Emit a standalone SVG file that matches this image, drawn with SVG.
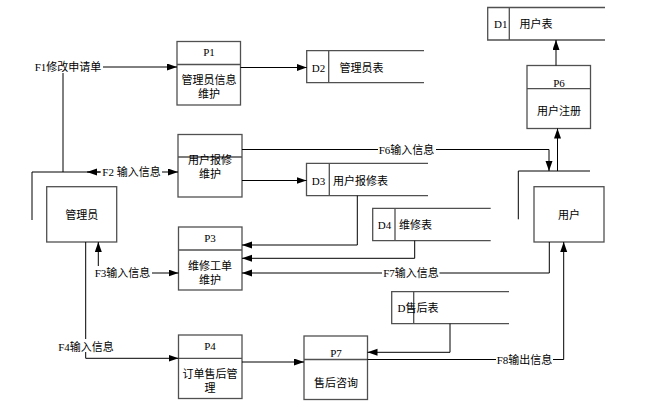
<svg xmlns="http://www.w3.org/2000/svg" width="648" height="412" viewBox="0 0 648 412">
<defs>
<marker id="arr" markerUnits="userSpaceOnUse" markerWidth="11" markerHeight="8" refX="10" refY="3.5" orient="auto">
<path d="M0,0 L10,3.5 L0,7 z" fill="#000"/>
</marker>
<style>
.box{fill:#fff;stroke:#505050;stroke-width:1.3}
.ln{fill:none;stroke:#505050;stroke-width:1.3}
.c{fill:none;stroke:#000;stroke-width:1}
.ca{fill:none;stroke:#000;stroke-width:1;marker-end:url(#arr)}
text{font-family:"Liberation Serif","Noto Sans CJK SC",serif;font-size:11px;fill:#000}
.m{text-anchor:middle}
</style>
</defs>
<rect width="648" height="412" fill="#fff"/>

<g id="P1">
<rect class="box" x="177" y="41.5" width="63.5" height="63.5"/>
<line class="ln" x1="177" y1="64.5" x2="240.5" y2="64.5"/>
<text class="m" x="209" y="56">P1</text>
<text class="m" x="209" y="84">管理员信息</text>
<text class="m" x="209" y="97.5">维护</text>
</g>

<g id="P2">
<rect class="box" x="178" y="134.5" width="64" height="62.5"/>
<line class="ln" x1="178" y1="157" x2="242" y2="157"/>
<text class="m" x="210" y="163.5">用户报修</text>
<text class="m" x="210" y="178">维护</text>
</g>

<g id="P3">
<rect class="box" x="178.5" y="227" width="63.5" height="63"/>
<line class="ln" x1="178.5" y1="250" x2="242" y2="250"/>
<text class="m" x="210" y="241.5">P3</text>
<text class="m" x="210" y="270">维修工单</text>
<text class="m" x="210" y="283.5">维护</text>
</g>

<g id="P4">
<rect class="box" x="178.5" y="335" width="63.5" height="63.5"/>
<line class="ln" x1="178.5" y1="358.3" x2="242" y2="358.3"/>
<text class="m" x="210" y="349.5">P4</text>
<text class="m" x="210" y="378">订单售后管</text>
<text class="m" x="210" y="391.5">理</text>
</g>

<g id="P7">
<rect class="box" x="304" y="336" width="63.5" height="63.5"/>
<line class="ln" x1="304" y1="359.5" x2="367.5" y2="359.5"/>
<text class="m" x="336" y="357">P7</text>
<text class="m" x="336" y="386.5">售后咨询</text>
</g>

<g id="P6">
<rect class="box" x="527" y="65.5" width="63.5" height="63"/>
<line class="ln" x1="527" y1="88.7" x2="590.5" y2="88.7"/>
<text class="m" x="559" y="87">P6</text>
<text class="m" x="559" y="115">用户注册</text>
</g>

<g id="admin">
<rect class="box" x="46.7" y="186.7" width="70" height="55.3"/>
<text class="m" x="81.7" y="219">管理员</text>
</g>

<g id="user">
<rect class="box" x="534" y="186.7" width="70" height="55.3"/>
<text class="m" x="569" y="219">用户</text>
</g>

<g id="D1">
<path class="ln" d="M605,7.5 H487.7 V40 H605 M509.3,7.5 V40"/>
<text class="m" x="500.7" y="28">D1</text>
<text x="519.5" y="28">用户表</text>
</g>

<g id="D2">
<path class="ln" d="M424,50.7 H306.7 V82.7 H424 M328.7,50.7 V82.7"/>
<text class="m" x="318.5" y="71.5">D2</text>
<text x="339.5" y="71.5">管理员表</text>
</g>

<g id="D3">
<path class="ln" d="M428,163.3 H306.5 V195.7 H428 M329.3,163.3 V195.7"/>
<text class="m" x="318.5" y="184.5">D3</text>
<text x="333" y="184.5">用户报修表</text>
</g>

<g id="D4">
<path class="ln" d="M490.7,208.3 H372.7 V240.7 H490.7 M395,208.3 V240.7"/>
<text class="m" x="384.5" y="229">D4</text>
<text x="399" y="229">维修表</text>
</g>

<g id="D5">
<path class="ln" d="M509,291.7 H391.7 V323.7 H509 M413.7,291.7 V323.7"/>
<text x="397.5" y="312">D售后表</text>
</g>

<g id="connectors">
<path class="c" d="M32,220 V172 H100"/>
<path class="c" d="M518.3,219.3 V171 H590"/>
<line class="ca" x1="103" y1="67" x2="177" y2="67"/>
<line class="c" x1="63" y1="73" x2="63" y2="172"/>
<line class="ca" x1="101" y1="172" x2="87" y2="172"/>
<line class="ca" x1="162" y1="172" x2="178" y2="172"/>
<line class="ca" x1="240.5" y1="67.5" x2="306.7" y2="67.5"/>
<line class="c" x1="242" y1="149.5" x2="378" y2="149.5"/>
<path class="ca" d="M436,149.5 H549 V171"/>
<line class="ca" x1="242" y1="180.5" x2="306.5" y2="180.5"/>
<path class="ca" d="M357.3,195.7 V245 H242"/>
<path class="ca" d="M414.7,240.7 V258.3 H242"/>
<path class="c" d="M549.3,242 V273 H439.5"/>
<line class="ca" x1="382" y1="273" x2="242" y2="273"/>
<line class="ca" x1="98.3" y1="266" x2="98.3" y2="242"/>
<line class="ca" x1="152" y1="273" x2="178.5" y2="273"/>
<line class="c" x1="85.7" y1="242" x2="85.7" y2="339"/>
<path class="ca" d="M85.7,352 V358.3 H178.5"/>
<line class="ca" x1="242" y1="362" x2="304" y2="362"/>
<path class="ca" d="M450,323.7 V352.3 H367.5"/>
<line class="c" x1="367.5" y1="359.5" x2="496" y2="359.5"/>
<path class="ca" d="M553,359.5 H563.7 V242"/>
<line class="ca" x1="557.5" y1="171" x2="557.5" y2="128.5"/>
<line class="ca" x1="556" y1="65.5" x2="556" y2="40"/>
<text class="m" x="68" y="71">F1修改申请单</text>
<text class="m" x="131.5" y="176">F2 输入信息</text>
<text class="m" x="406.5" y="154">F6输入信息</text>
<text class="m" x="122.5" y="277">F3输入信息</text>
<text class="m" x="411" y="277">F7输入信息</text>
<text class="m" x="86" y="350.5">F4输入信息</text>
<text class="m" x="524.5" y="364">F8输出信息</text>
</g>
</svg>
